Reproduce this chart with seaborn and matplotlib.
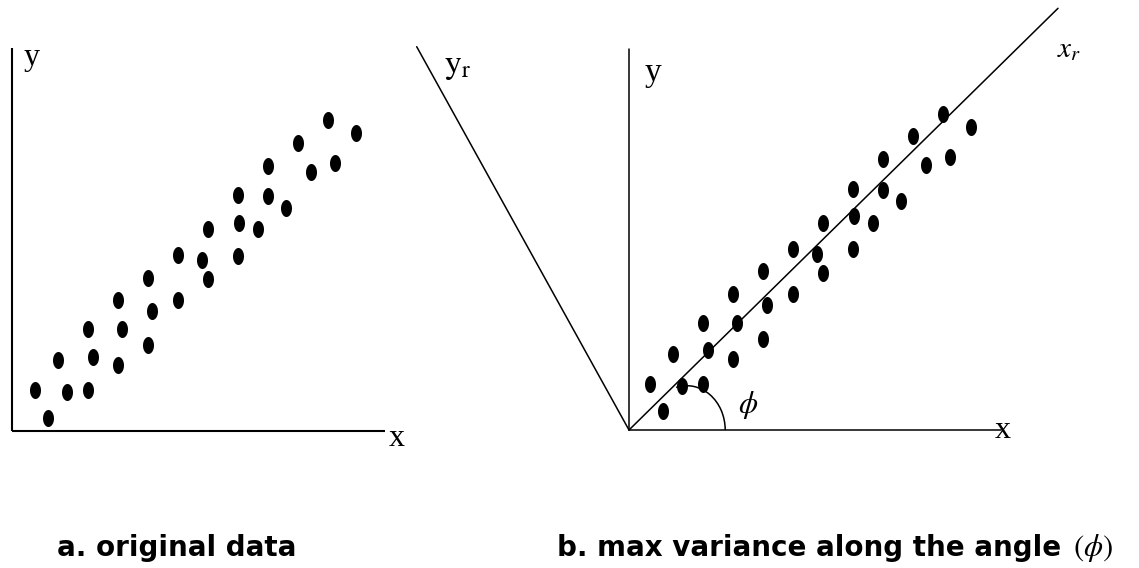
import numpy as np
import pandas as pd
import matplotlib
matplotlib.use("Agg")
import matplotlib.pyplot as plt
from matplotlib.patches import Arc
import seaborn as sns

# Sample points (same cloud in both panels)
pt_x = [23.3, 36.0, 46.6, 55.0, 76.0, 81.6, 76.0, 106.6, 110.6, 106.6,
        136.6, 140.0, 136.6, 166.6, 166.6, 190.0, 196.6, 196.6, 226.0, 227.3,
        226.0, 246.0, 256.6, 256.6, 274.0, 286.6, 299.3, 316.6, 323.3, 344.3]
pt_y = [41.0, 13.3, 71.0, 38.7, 102.0, 74.3, 41.0, 131.0, 102.0, 66.0,
        153.3, 120.0, 86.0, 176.0, 131.0, 171.0, 202.0, 152.0, 236.0, 208.3,
        175.3, 202.0, 265.3, 235.0, 223.3, 288.3, 259.3, 311.0, 267.7, 297.7]

caption_a = "a. original data"
caption_b = "b. max variance along the angle"
caption_b_sym = r"$(\phi)$"

df = pd.DataFrame({"x": pt_x, "y": pt_y})

sns.set_style("white")
plt.rcParams["mathtext.fontset"] = "stix"
plt.rcParams["font.family"] = ["DejaVu Sans"]
plt.rcParams["text.color"] = "black"

W, H = 1139, 568
fig = plt.figure(figsize=(W / 100, H / 100), dpi=100)
fig.patch.set_facecolor("white")

# upright oval marker, taller than wide
t = np.linspace(0, 2 * np.pi, 60)
oval = np.column_stack([0.5 * (11 / 17) * np.cos(t), 0.5 * np.sin(t)])

serif = "Liberation Serif"


def panel(px0, px1, py0, py1, origin_px, origin_py):
    """Axes covering a pixel box, 1 data unit per pixel."""
    ax = fig.add_axes([px0 / W, (H - py1) / H, (px1 - px0) / W, (py1 - py0) / H])
    ax.set_xlim(px0 - origin_px, px1 - origin_px)
    ax.set_ylim(origin_py - py1, origin_py - py0)
    ax.set_axis_off()
    return ax


# ---- panel a ----
axa = panel(0, 420, 0, 470, 11.7, 431)
sns.scatterplot(data=df, x="x", y="y", ax=axa, marker=oval, s=150,
                color="black", linewidth=0, legend=False)
axa.plot([0, 0], [0, 383], color="black", lw=1.5, solid_capstyle="butt")
axa.plot([0, 373], [0, 0], color="black", lw=1.5, solid_capstyle="butt")
axa.text(20, 374, "y", fontsize=23, family=serif, color="black",
         ha="center", va="center")
axa.text(385, -7, "x", fontsize=23, family=serif, color="black",
         ha="center", va="center")

# ---- panel b ----
axb = panel(410, 1139, 0, 470, 626.7, 424.5)
sns.scatterplot(data=df, x="x", y="y", ax=axb, marker=oval, s=150,
                color="black", linewidth=0, legend=False)
ox, oy = 2.3, -5.5
lw = 1.1
axb.plot([ox, ox + 372], [oy, oy], color="black", lw=lw)
axb.plot([ox, ox], [oy, oy + 381], color="black", lw=lw)
axb.plot([ox, ox + 429], [oy, oy + 421.7], color="black", lw=lw)
axb.plot([ox, ox - 212.3], [oy, oy + 383.3], color="black", lw=lw)
axb.add_patch(Arc((ox + 57.7, oy), 77, 88.6, theta1=0, theta2=104,
                  color="black", lw=lw))
axb.text(ox + 24, oy + 357, "y", fontsize=24, family=serif, color="black",
         ha="center", va="center")
axb.text(ox + 374, oy - 1, "x", fontsize=23, family=serif, color="black",
         ha="center", va="center")
axb.text(ox + 440, oy + 381, r"$x_r$", fontsize=21, color="black",
         ha="center", va="center")
axb.text(ox - 171, oy + 365, r"$\mathrm{y}_\mathrm{r}$", fontsize=24,
         color="black", ha="center", va="center")
axb.text(ox + 119, oy + 25, r"$\phi$", fontsize=22, color="black",
         ha="center", va="center")

# ---- captions ----
base = (H - 556) / H
fig.text(57 / W, base, caption_a, fontsize=20, fontweight="bold",
         color="black", ha="left", va="baseline")
tb = fig.text(557 / W, base, caption_b, fontsize=20, fontweight="bold",
              color="black", ha="left", va="baseline")
fig.canvas.draw()
bb = tb.get_window_extent(renderer=fig.canvas.get_renderer())
fig.text((bb.x1 + 12) / W, base, caption_b_sym, fontsize=22,
         color="black", ha="left", va="baseline")

fig.savefig("out.png", dpi=100, facecolor="white")
